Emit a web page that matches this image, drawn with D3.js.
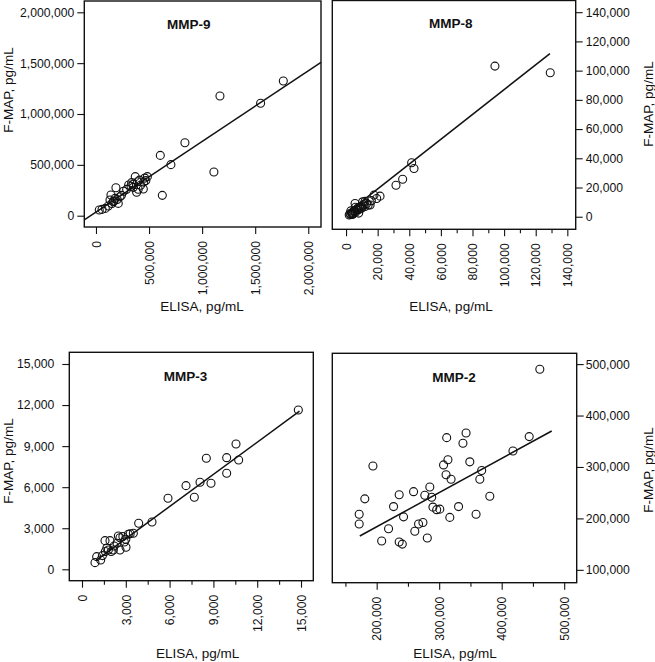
<!DOCTYPE html>
<html>
<head>
<meta charset="utf-8">
<script src="https://cdn.jsdelivr.net/npm/d3@7"></script>
<style>
  body { margin: 0; background: #fff; }
  svg { display: block; font-family: "Liberation Sans", Arial, sans-serif; }
  svg .tick text { font-size: 12.2px; font-family: "Liberation Sans", Arial, sans-serif; fill: #111; }
</style>
</head>
<body>
<div id="chart"></div>
<script>
// MMP-9 (ELISA vs F-MAP, pg/mL)
const mmp9Elisa = [1765000, 1168000, 1551000, 838000, 606000, 706000, 1111000, 625000, 484000, 470000,
  370000, 336000, 392000, 446000, 383000, 308000, 289000, 352000, 398000, 420000, 450000, 188000,
  141000, 179000, 226000, 163000, 210000, 88000, 31000, 57000, 116000, 132000, 150000, 170000,
  200000, 240000, 260000, 330000, 350000, 410000, 460000]
const mmp9Fmap = [1325000, 1177000, 1105000, 718000, 593000, 502000, 430000, 200000, 384000, 345000,
  384000, 325000, 334000, 262000, 230000, 302000, 259000, 279000, 260000, 300000, 330000, 275000,
  203000, 170000, 187000, 138000, 121000, 72000, 56000, 62000, 95000, 155000, 120000, 145000,
  160000, 200000, 240000, 290000, 310000, 350000, 370000]
const mmp9Fit = [34500, 0.695] // intercept, slope

// MMP-8
const mmp8Elisa = [2000, 2500, 3000, 3500, 4000, 4500, 5000, 5500, 6000, 6500, 7000, 7500, 8000, 8500,
  9000, 9500, 10000, 11000, 12000, 13000, 14000, 5700, 10500, 15200, 17700, 21500, 19400, 31600,
  35800, 41500, 43000, 94200, 129200, 3000, 4000, 6000, 8000, 12000, 16000]
const mmp8Fmap = [1200, 2000, 1500, 2500, 3000, 2000, 3500, 4000, 3000, 5000, 4500, 6000, 5000, 6500,
  5500, 7000, 6000, 8000, 7000, 9000, 8000, 9100, 10200, 8000, 14800, 14100, 12500, 21600,
  25700, 36900, 33000, 103100, 98600, 4000, 1500, 6500, 2500, 10500, 11000]
const mmp8Fit = [2000, 0.85]

// MMP-3
const mmp3Elisa = [14817, 10548, 9909, 10730, 8516, 9909, 8836, 8082, 7123, 7694, 5890, 4795, 3881,
  3516, 3174, 2489, 1575, 1918, 1005, 890, 1279, 3014, 2603, 2146, 1804, 2800, 2900, 3300, 2200,
  2000, 1600, 1700, 2400, 1400, 3000, 2600]
const mmp3Fmap = [11640, 9156, 8157, 7987, 8109, 7013, 6282, 6355, 6112, 5260, 5187, 3458, 3360,
  2630, 2557, 2435, 2094, 2094, 925, 487, 682, 1607, 1412, 1412, 1412, 2400, 2000, 2600, 1700,
  1300, 1300, 1550, 1900, 1000, 2200, 2300]
const mmp3Fit = [-110, 0.783]

// MMP-2
const mmp2Elisa = [461000, 343000, 312000, 338000, 444000, 418000, 194000, 307000, 314000, 349000,
  368000, 311000, 319000, 365000, 285000, 236000, 259000, 277000, 288000, 181000, 381000, 227000,
  331000, 290000, 296000, 301000, 172000, 243000, 317000, 359000, 172000, 219000, 274000, 267000,
  261000, 281000, 208000, 236000, 241000]
const mmp2Fmap = [490000, 366000, 357000, 346000, 359000, 331000, 302000, 304000, 314000, 310000,
  293000, 285000, 276000, 276000, 261000, 246000, 252000, 245000, 241000, 238000, 243000, 223000,
  223000, 222000, 217000, 218000, 208000, 203000, 202000, 208000, 189000, 180000, 192000, 189000,
  175000, 162000, 156000, 154000, 150000]
const mmp2Fit = [50700, 0.665]

// tick values
const mmp9Ticks = [0, 500000, 1000000, 1500000, 2000000]
const mmp8Ticks = [0, 20000, 40000, 60000, 80000, 100000, 120000, 140000]
const mmp8Minor = [10000, 30000, 50000, 70000, 90000, 110000, 130000]
const mmp3Ticks = [0, 3000, 6000, 9000, 12000, 15000]
const mmp3Minor = [1500, 4500, 7500, 10500, 13500]
const mmp2XTicks = [200000, 300000, 400000, 500000]
const mmp2XMinor = [150000, 250000, 350000, 450000]
const mmp2YTicks = [100000, 200000, 300000, 400000, 500000]

const W = 655, H = 662
const fmt = d3.format(",")

const panels = [
  { title: "MMP-9", xs: mmp9Elisa, ys: mmp9Fmap, fit: mmp9Fit, fitX: [-110000, 2120000],
    box: [84.3, 1, 321, 227], xDom: [-110000, 2120000], yDom: [-111000, 2111000],
    xTicks: mmp9Ticks, xMinor: [], yTicks: mmp9Ticks, ySide: "left", yPad: 3,
    titleXY: [188.7, 29], xLabXY: [202, 311], yLabXY: [8, 90] },
  { title: "MMP-8", xs: mmp8Elisa, ys: mmp8Fmap, fit: mmp8Fit, fitX: [500, 129000],
    box: [332.3, 0.5, 575.7, 229.3], xDom: [-8700, 145300], yDom: [-8600, 148000],
    xTicks: mmp8Ticks, xMinor: mmp8Minor, yTicks: mmp8Ticks, ySide: "right", yPad: 3,
    titleXY: [450.7, 28], xLabXY: [451, 311], yLabXY: [648, 104] },
  { title: "MMP-3", xs: mmp3Elisa, ys: mmp3Fmap, fit: mmp3Fit, fitX: [1000, 14900],
    box: [69.3, 352.3, 313.3, 580.7], xDom: [-870, 15842], yDom: [-833, 15855],
    xTicks: mmp3Ticks, xMinor: mmp3Minor, yTicks: mmp3Ticks, ySide: "left", yPad: 8,
    titleXY: [185.5, 381], xLabXY: [197.7, 658], yLabXY: [8, 461] },
  { title: "MMP-2", xs: mmp2Elisa, ys: mmp2Fmap, fit: mmp2Fit, fitX: [173000, 480000],
    box: [332.3, 353.3, 576.7, 582.7], xDom: [129000, 520000], yDom: [75000, 521000],
    xTicks: mmp2XTicks, xMinor: mmp2XMinor, yTicks: mmp2YTicks, ySide: "right", yPad: 2,
    titleXY: [454, 382], xLabXY: [455, 658], yLabXY: [648, 470] }
]

const svg = d3.select("#chart").append("svg")
  .attr("width", W)
  .attr("height", H)

panels.forEach(p => {
  const [x0, y0, x1, y1] = p.box
  const x = d3.scaleLinear().domain(p.xDom).range([x0, x1])
  const y = d3.scaleLinear().domain(p.yDom).range([y1, y0])
  const g = svg.append("g")

  // x axis, labels turned upright
  const xAxis = g.append("g")
    .attr("transform", "translate(0," + y1 + ")")
    .call(d3.axisBottom(x).tickValues(p.xTicks).tickFormat(fmt).tickSize(7).tickPadding(7))
  xAxis.select(".domain").remove()
  xAxis.selectAll("text")
    .attr("transform", "rotate(-90)")
    .attr("x", -14)
    .attr("y", 0)
    .attr("dy", "0.35em")
    .style("text-anchor", "end")
  if (p.xMinor.length) {
    const minor = g.append("g")
      .attr("transform", "translate(0," + y1 + ")")
      .call(d3.axisBottom(x).tickValues(p.xMinor).tickFormat("").tickSize(4))
    minor.select(".domain").remove()
  }

  // y axis
  const yAxisFn = p.ySide === "left" ? d3.axisLeft(y) : d3.axisRight(y)
  const yAxis = g.append("g")
    .attr("transform", "translate(" + (p.ySide === "left" ? x0 : x1) + ",0)")
    .call(yAxisFn.tickValues(p.yTicks).tickFormat(fmt).tickSize(7).tickPadding(p.yPad))
  yAxis.select(".domain").remove()

  g.selectAll(".tick line").attr("stroke", "#111").attr("stroke-width", 1.1)

  // frame
  g.append("rect")
    .attr("x", x0).attr("y", y0)
    .attr("width", x1 - x0).attr("height", y1 - y0)
    .attr("fill", "none")
    .attr("stroke", "#111")
    .attr("stroke-width", 1.4)

  // fit line
  const [b0, b1] = p.fit
  g.append("line")
    .attr("x1", x(p.fitX[0])).attr("y1", y(b0 + b1 * p.fitX[0]))
    .attr("x2", x(p.fitX[1])).attr("y2", y(b0 + b1 * p.fitX[1]))
    .attr("stroke", "#111")
    .attr("stroke-width", 1.5)

  // points
  g.selectAll("circle.pt")
    .data(p.xs.map((v, i) => [v, p.ys[i]]))
    .enter()
    .append("circle")
    .attr("class", "pt")
    .attr("cx", d => x(d[0]))
    .attr("cy", d => y(d[1]))
    .attr("r", 4)
    .attr("fill", "none")
    .attr("stroke", "#111")
    .attr("stroke-width", 1.1)

  // title
  g.append("text")
    .attr("x", p.titleXY[0]).attr("y", p.titleXY[1])
    .attr("text-anchor", "middle")
    .style("font-size", "13.5px")
    .attr("font-weight", "bold")
    .attr("fill", "#111")
    .text(p.title)

  // axis titles
  g.append("text")
    .attr("x", p.xLabXY[0]).attr("y", p.xLabXY[1])
    .attr("text-anchor", "middle")
    .style("font-size", "13.5px")
    .attr("fill", "#111")
    .text("ELISA, pg/mL")

  g.append("text")
    .attr("transform", "translate(" + p.yLabXY[0] + "," + p.yLabXY[1] + ") rotate(-90)")
    .attr("text-anchor", "middle")
    .attr("dy", "0.35em")
    .style("font-size", "13.5px")
    .attr("fill", "#111")
    .text("F-MAP, pg/mL")
})
</script>
</body>
</html>
